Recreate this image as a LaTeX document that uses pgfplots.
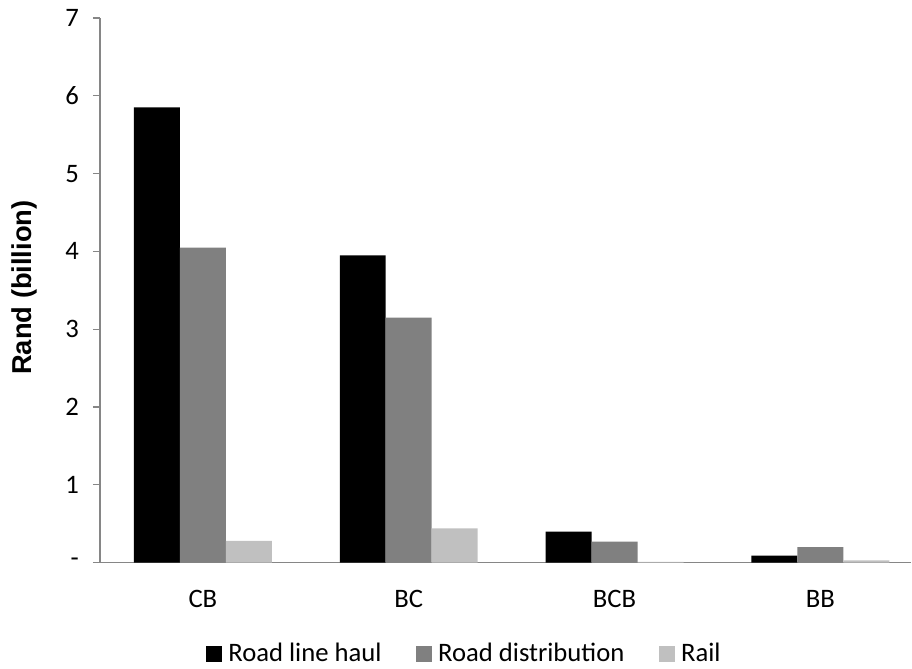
\documentclass[border=0pt]{standalone}
\usepackage{fontspec}
\setmainfont{Carlito}
\newfontfamily\arialfont{Liberation Sans}
\usepackage{pgfplots}
\pgfplotsset{compat=1.18}

\definecolor{axisgray}{RGB}{134,134,134}
\definecolor{haul}{RGB}{0,0,0}
\definecolor{dist}{RGB}{128,128,128}
\definecolor{rail}{RGB}{192,192,192}

\begin{document}
\begin{tikzpicture}
% page frame: 684pt x 501.75pt
\path (0pt,0pt) rectangle (684pt,501.75pt);
\begin{axis}[
  at={(75pt,79.5pt)}, anchor=south west,
  scale only axis,
  width=609pt, height=408.75pt,
  xmin=-0.5, xmax=3.442,
  ymin=0, ymax=7,
  axis x line*=bottom,
  axis y line*=left,
  axis line style={axisgray, line width=0.9pt},
  every axis plot/.append style={ybar, bar width=34.5pt, draw=none},
  xtick={0,1,2,3},
  xticklabels={CB,BC,BCB,BB},
  x tick label style={font=\fontsize{20}{23}\selectfont, anchor=base, yshift=-33.5pt},
  major x tick style={draw=none},
  extra x ticks={-0.5,0.5,1.5,2.5},
  extra x tick labels={},
  extra x tick style={xtick align=outside,
    tick style={draw=axisgray, line width=0.9pt}},
  ytick={0,1,2,3,4,5,6,7},
  yticklabels={-,1,2,3,4,5,6,7},
  y tick label style={font=\fontsize{20}{23}\selectfont, xshift=-7pt},
  ytick align=outside,
  major tick length=5.25pt,
  tick style={axisgray, line width=0.9pt},
  ylabel={\arialfont\bfseries Rand (billion)},
  ylabel style={font=\fontsize{20.5}{24}\selectfont,
    at={(axis description cs:-0.0936,0.505)}, anchor=center},
  legend style={at={(0.448,-0.167)}, anchor=center, draw=none,
    legend columns=3, font=\fontsize{20}{23}\selectfont,
    nodes={inner sep=0pt},
    /tikz/every odd column/.append style={column sep=4.5pt},
    /tikz/every even column/.append style={column sep=26pt}},
  legend image code/.code={\fill[#1] (0pt,-6pt) rectangle (12pt,6pt);},
  clip=false,
]
\addplot[fill=haul, bar shift=-34.5pt] coordinates {(0,5.85) (1,3.95) (2,0.40) (3,0.09)};
\addplot[fill=dist, bar shift=0pt] coordinates {(0,4.05) (1,3.15) (2,0.27) (3,0.20)};
\addplot[fill=rail, bar shift=34.5pt] coordinates {(0,0.28) (1,0.44) (2,0.01) (3,0.03)};
\legend{Road line haul, Road distribution, Rail}
\end{axis}
\end{tikzpicture}
\end{document}
